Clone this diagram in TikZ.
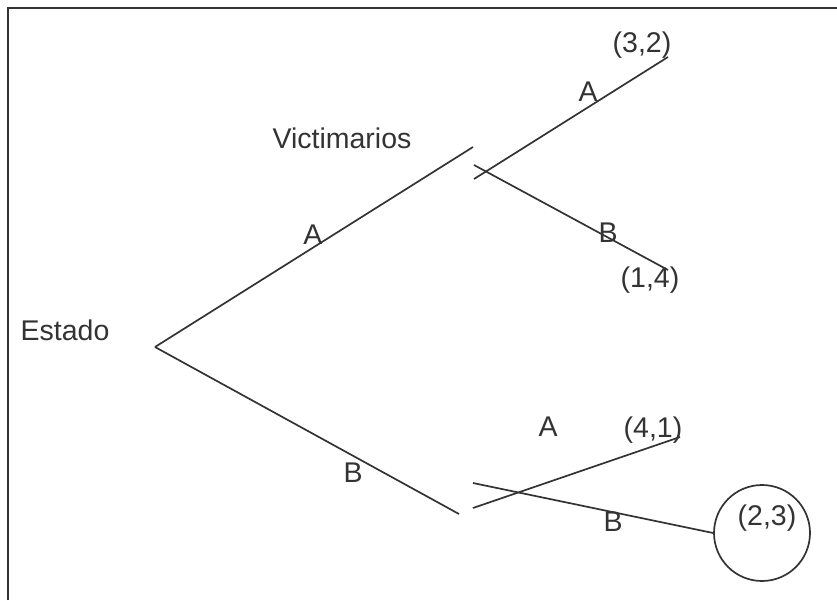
\documentclass[tikz,border=0pt]{standalone}
\usepackage{fontspec}
\setmainfont{Liberation Sans}
\usetikzlibrary{positioning}
\definecolor{ink}{HTML}{333333}

\begin{document}
\begin{tikzpicture}[
		x=1pt, y=-1pt,
		every node/.style={font=\fontsize{28.5}{33}\selectfont, text=ink, inner sep=0pt},
		branch/.style={draw=ink, line width=1.7pt},
		frame/.style={draw=ink, line width=2pt},
		payoff/.style={circle, draw=ink, line width=1.7pt, minimum size=96pt},
		]
		\useasboundingbox (0,0) rectangle (837,600);
		% Frame (only top and left edges are visible)
		\coordinate (fl) at (8,600);
		\coordinate (fc) at (8,8);
		\coordinate (fr) at (837,8);
		\draw[frame] (fl) -- (fc) -- (fr);
		
		% Players
		\node (estado) at (65,330) {Estado};
		\node (vict) at (342,138) {Victimarios};
		
		% First move of the Estado
		\coordinate (root) at (155,347);
		\coordinate (upend) at (473,147);
		\coordinate (lowend) at (459,514);
		\draw[branch] (root) -- (upend);
		\draw[branch] (root) -- (lowend);
		\node (la) at (313,235) {A};
		\node (lb) at (353,473) {B};
		
		% Upper reply of the Victimarios
		\coordinate (ua) at (474,179);
		\coordinate (ub) at (474,165);
		\coordinate (uaend) at (668,57);
		\coordinate (ubend) at (668,270);
		\draw[branch] (ua) -- (uaend);
		\draw[branch] (ub) -- (ubend);
		\node (ula) at (588,92) {A};
		\node (ulb) at (608,233) {B};
		\node (p32) at (642,45) {(3,2)};
		\node (p14) at (650,280) {(1,4)};
		
		% Lower reply of the Victimarios
		\coordinate (da) at (473,508);
		\coordinate (db) at (473,483);
		\coordinate (daend) at (680,437);
		\node[payoff] (circ) at (762,533) {};
		\draw[branch] (da) -- (daend);
		\draw[branch] (db) -- (circ.west);
		\node (dla) at (548,427) {A};
		\node (dlb) at (613,522) {B};
		\node (p41) at (653,430) {(4,1)};
		\node (p23) at (767,518) {(2,3)};
		
	\end{tikzpicture}
\end{document}
